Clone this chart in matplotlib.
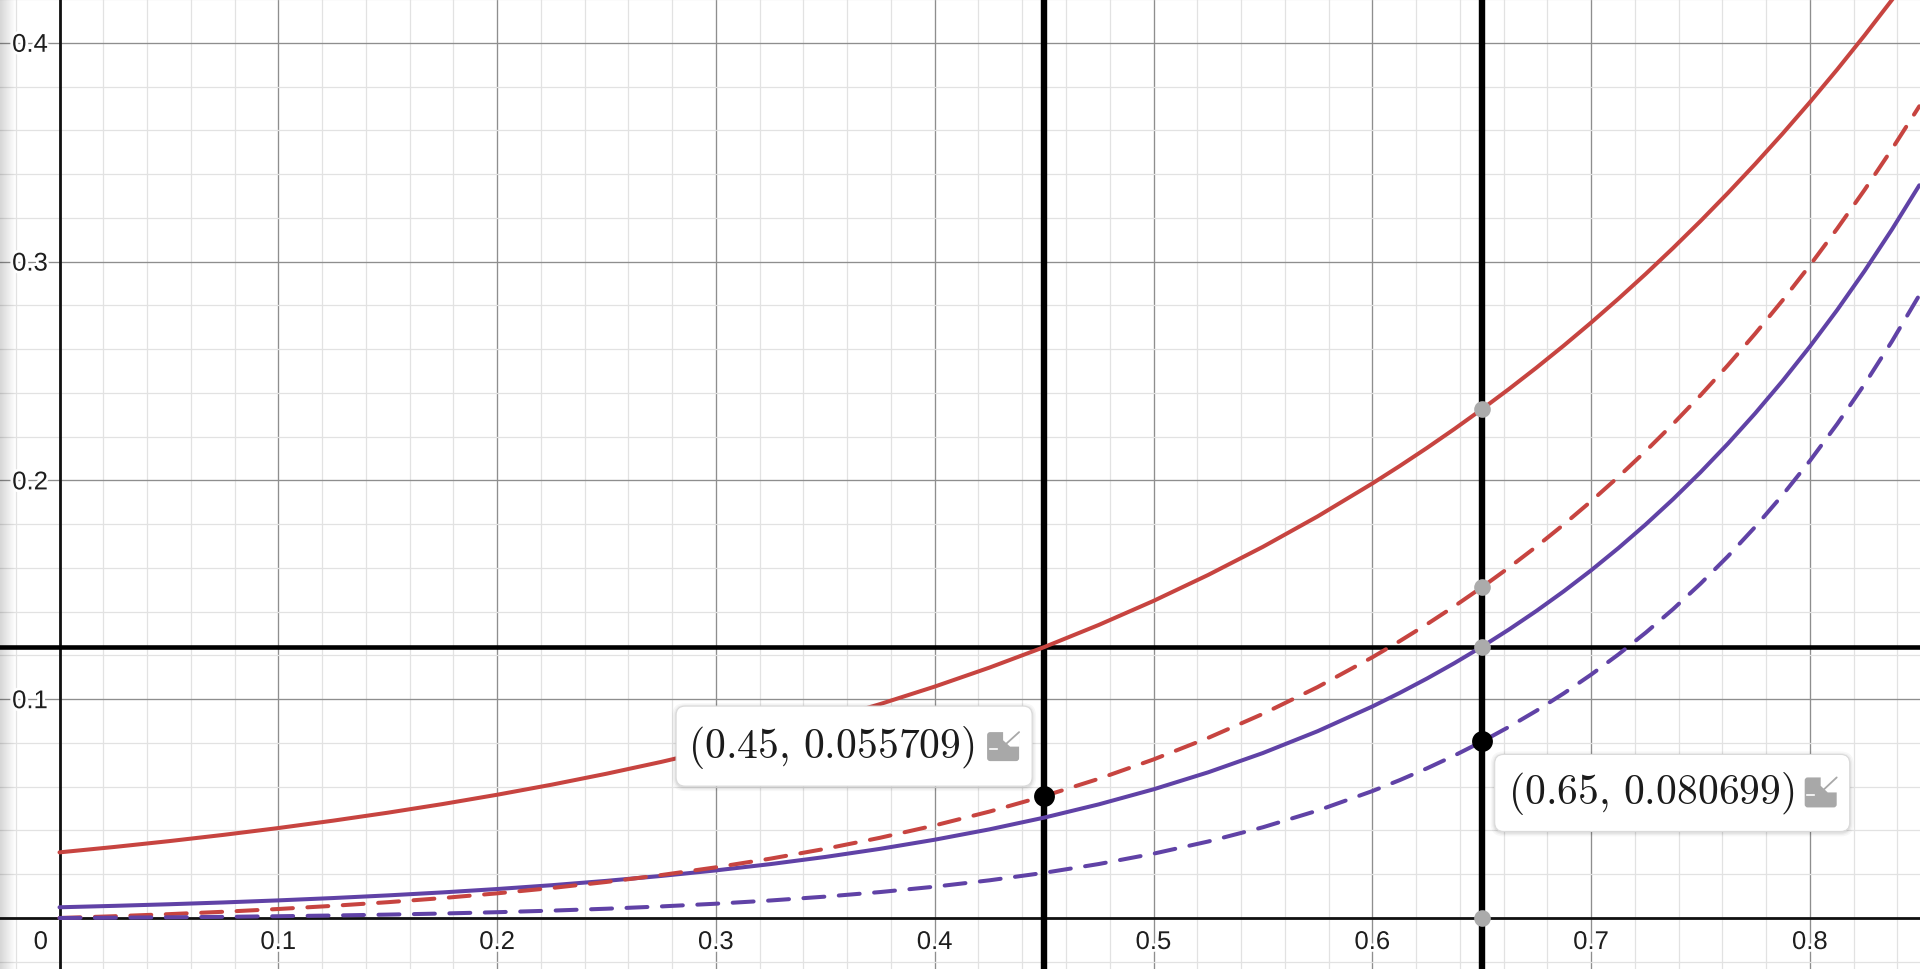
import numpy as np
import matplotlib
matplotlib.use("Agg")
import matplotlib.pyplot as plt
import matplotlib.transforms as mtransforms
import matplotlib.patheffects as pe
from matplotlib.patches import FancyBboxPatch, Polygon

# ---------------- data ----------------
x_vals = [0.000, 0.025, 0.050, 0.075, 0.100, 0.125, 0.150, 0.175, 0.200, 0.225,
          0.250, 0.275, 0.300, 0.325, 0.350, 0.375, 0.400, 0.425, 0.450, 0.475,
          0.500, 0.525, 0.550, 0.575,
          0.6000, 0.6125, 0.6250, 0.6375, 0.6500, 0.6625, 0.6750, 0.6875, 0.7000,
          0.7125, 0.7250, 0.7375, 0.7500, 0.7625, 0.7750, 0.7875, 0.8000, 0.8125,
          0.8250, 0.8375, 0.8500]

red_solid = [0.03000, 0.03246, 0.03512, 0.03800, 0.04111, 0.04448, 0.04812, 0.05206,
             0.05633, 0.06094, 0.06594, 0.07134, 0.07718, 0.08351, 0.09035, 0.09775,
             0.10576, 0.11443, 0.12380, 0.13395, 0.14492, 0.15680, 0.16964, 0.18354,
             0.19858, 0.20656, 0.21485, 0.22348, 0.23246, 0.24179, 0.25150, 0.26160,
             0.27211, 0.28304, 0.29440, 0.30623, 0.31852, 0.33132, 0.34462, 0.35846,
             0.37286, 0.38783, 0.40341, 0.41961, 0.43646]

red_dashed = [0.00000, 0.00081, 0.00176, 0.00285, 0.00411, 0.00556, 0.00722, 0.00911,
              0.01127, 0.01371, 0.01648, 0.01962, 0.02316, 0.02714, 0.03162, 0.03666,
              0.04231, 0.04863, 0.05571, 0.06363, 0.07246, 0.08232, 0.09330, 0.10554,
              0.11915, 0.12652, 0.13428, 0.14247, 0.15110, 0.16019, 0.16976, 0.17985,
              0.19048, 0.20166, 0.21344, 0.22584, 0.23889, 0.25263, 0.26708, 0.28229,
              0.29829, 0.31511, 0.33281, 0.35142, 0.37099]

purple_solid = [0.00490, 0.00555, 0.00628, 0.00711, 0.00805, 0.00912, 0.01033, 0.01169,
                0.01324, 0.01499, 0.01698, 0.01922, 0.02176, 0.02464, 0.02790, 0.03160,
                0.03578, 0.04051, 0.04587, 0.05194, 0.05881, 0.06659, 0.07540, 0.08537,
                0.09666, 0.10286, 0.10945, 0.11647, 0.12393, 0.13188, 0.14033, 0.14932,
                0.15889, 0.16908, 0.17992, 0.19145, 0.20372, 0.21678, 0.23067, 0.24545,
                0.26119, 0.27793, 0.29574, 0.31470, 0.33487]

purple_dashed = [0.00000, 0.00014, 0.00031, 0.00053, 0.00081, 0.00114, 0.00155, 0.00205,
                 0.00265, 0.00337, 0.00424, 0.00529, 0.00653, 0.00801, 0.00977, 0.01185,
                 0.01431, 0.01722, 0.02064, 0.02467, 0.02940, 0.03496, 0.04147, 0.04909,
                 0.05800, 0.06300, 0.06841, 0.07425, 0.08056, 0.08737, 0.09472, 0.10266,
                 0.11123, 0.12047, 0.13044, 0.14119, 0.15279, 0.16529, 0.17877, 0.19330,
                 0.20895, 0.22582, 0.24399, 0.26356, 0.28464]

marker_x = [0.45, 0.65]          # thick black vertical lines
level_y = 0.1238                 # thick black horizontal line

black_pts_x = [0.45, 0.65]
black_pts_y = [0.055709, 0.080699]
point_labels = [r"$(0.45,\, 0.055709)$", r"$(0.65,\, 0.080699)$"]

gray_pts_x = [0.65, 0.65, 0.65, 0.65]
gray_pts_y = [0.2325, 0.1511, 0.1239, 0.0]

x_ticks = [0.1, 0.2, 0.3, 0.4, 0.5, 0.6, 0.7, 0.8]
x_tick_labels = ["0.1", "0.2", "0.3", "0.4", "0.5", "0.6", "0.7", "0.8"]
y_ticks = [0.1, 0.2, 0.3, 0.4]
y_tick_labels = ["0.1", "0.2", "0.3", "0.4"]
origin_label = "0"

# ---------------- style ----------------
RED = "#c74440"
PURPLE = "#6042a6"
GRAY_PT = "#ababab"
plt.rcParams["mathtext.fontset"] = "cm"
LABEL_FONT = ["Liberation Sans", "DejaVu Sans"]

W, H, DPI = 19.2, 9.7, 100
fig = plt.figure(figsize=(W, H), dpi=DPI)
fig.patch.set_facecolor("white")
ax = fig.add_axes([0, 0, 1, 1])
ax.set_facecolor("white")

PX = 2188.0  # pixels per unit
x0_px, y0_px = 59.5, 919.0
ax.set_xlim(-x0_px / PX, (1920 - x0_px) / PX)
ax.set_ylim(-(970 - y0_px) / PX, y0_px / PX)

for s in ax.spines.values():
    s.set_visible(False)
ax.set_xticks([0.0] + x_ticks)
ax.set_yticks([0.0] + y_ticks)
ax.set_xticks(np.arange(-0.02, 0.86, 0.02), minor=True)
ax.set_yticks(np.arange(-0.02, 0.43, 0.02), minor=True)
ax.tick_params(which="both", length=0, labelbottom=False, labelleft=False)
ax.set_axisbelow(True)
ax.grid(which="minor", color="#e2e2e2", lw=0.9)
ax.grid(which="major", color="#8e8e8e", lw=0.95)

# axes
ax.axhline(0, color="#111111", lw=2.0, zorder=1.5)
ax.axvline(0, color="#111111", lw=2.0, zorder=1.5)

# thick black guide lines
for xv in marker_x:
    ax.axvline(xv, color="black", lw=4.6, zorder=2)
ax.axhline(level_y, color="black", lw=3.3, zorder=2)

# curves
lw = 2.9
ax.plot(x_vals, red_solid, color=RED, lw=lw, zorder=3, solid_capstyle="round",
        solid_joinstyle="round")
ax.plot(x_vals, purple_solid, color=PURPLE, lw=lw, zorder=3, solid_capstyle="round",
        solid_joinstyle="round")
ax.plot(x_vals, red_dashed, color=RED, lw=lw, zorder=3, dashes=(5.2, 3.6),
        dash_capstyle="round", dash_joinstyle="round")
ax.plot(x_vals, purple_dashed, color=PURPLE, lw=lw, zorder=3, dashes=(5.2, 3.6),
        dash_capstyle="round", dash_joinstyle="round")

# points
ax.plot(gray_pts_x, gray_pts_y, "o", ms=12, color=GRAY_PT, mec="none", zorder=4)
ax.plot(black_pts_x, black_pts_y, "o", ms=15, color="black", mec="none", zorder=4.5)


def pix(xd, yd):
    return mtransforms.Affine2D() + mtransforms.ScaledTranslation(xd, yd, ax.transData)


def draw_icon(tr, x, y, w, h):
    ax.add_patch(FancyBboxPatch((x, y), w, h, boxstyle="round,pad=0,rounding_size=3",
                                fc="#a8a8a8", ec="none", transform=tr, zorder=7))
    # white notch at top-right
    ax.add_patch(Polygon([(x + 0.5 * w, y + h + 0.5), (x + w + 0.5, y + h + 0.5),
                          (x + w + 0.5, y + 0.5 * h), (x + 0.72 * w, y + 0.5 * h),
                          (x + 0.5 * w, y + 0.72 * h)], closed=True,
                         fc="white", ec="none", transform=tr, zorder=7.1))
    # arrow
    ax.plot([x + w, x + 0.42 * w], [y + h, y + 0.42 * h], color="#a8a8a8", lw=1.3,
            transform=tr, zorder=7.2, solid_capstyle="round")
    ax.plot([x + 0.42 * w, x + 0.42 * w, x + 0.7 * w],
            [y + 0.75 * h, y + 0.42 * h, y + 0.42 * h], color="#a8a8a8", lw=1.3,
            transform=tr, zorder=7.2)
    ax.plot([x + 0.08 * w, x + 0.3 * w], [y + 0.42 * h, y + 0.42 * h], color="white",
            lw=1.2, transform=tr, zorder=7.2)


# label boxes (pixel offsets from their points)
box_specs = [
    dict(box=(-368, 10, 356, 80), text=(-356, 50), icon=(-57, 35, 32, 29)),
    dict(box=(13, -90, 355, 77), text=(26, -51), icon=(323, -66, 32, 30)),
]
for (px_, py_), lab, spec in zip(zip(black_pts_x, black_pts_y), point_labels, box_specs):
    tr = pix(px_, py_)
    bx, by, bw, bh = spec["box"]
    # soft shadow
    for k, a in [(4, 0.03), (2.5, 0.04), (1.2, 0.05)]:
        ax.add_patch(FancyBboxPatch((bx - k, by - k - 1), bw + 2 * k, bh + 2 * k,
                                    boxstyle=f"round,pad=0,rounding_size={9 + k}",
                                    fc="black", ec="none", alpha=a, transform=tr,
                                    zorder=5.5))
    ax.add_patch(FancyBboxPatch((bx, by), bw, bh, boxstyle="round,pad=0,rounding_size=9",
                                fc="white", ec="#dadada", lw=0.8, transform=tr,
                                zorder=6))
    tx, ty = spec["text"]
    ax.text(tx, ty, lab, transform=tr, fontsize=30, ha="left", va="center",
            color="#1b1b1b", zorder=7)
    draw_icon(tr, *spec["icon"])

# tick labels
FS = 18.5
halo = [pe.withStroke(linewidth=4, foreground="white")]
for xv, lab in zip(x_ticks, x_tick_labels):
    ax.text(xv, 0, lab, transform=mtransforms.offset_copy(ax.transData, fig=fig, x=0,
            y=-31, units="dots"), ha="center", va="baseline", fontsize=FS,
            family=LABEL_FONT, color="#1e1e1e", path_effects=halo, zorder=8)
for yv, lab in zip(y_ticks, y_tick_labels):
    ax.text(0, yv, lab, transform=mtransforms.offset_copy(ax.transData, fig=fig, x=-11.5,
            y=-9, units="dots"), ha="right", va="baseline", fontsize=FS,
            family=LABEL_FONT, color="#1e1e1e", path_effects=halo, zorder=8)
ax.text(0, 0, origin_label, transform=mtransforms.offset_copy(ax.transData, fig=fig,
        x=-11.5, y=-31, units="dots"), ha="right", va="baseline", fontsize=FS,
        family=LABEL_FONT, color="#1e1e1e", path_effects=halo, zorder=8)

# left-edge panel shadow
sh_w = 16
grad = np.zeros((int(H * DPI), sh_w, 4))
grad[..., 3] = np.linspace(0.16, 0.0, sh_w)[None, :]
fig.figimage(grad, xo=0, yo=0, zorder=20)

fig.savefig("out.png", dpi=DPI, facecolor="white")
